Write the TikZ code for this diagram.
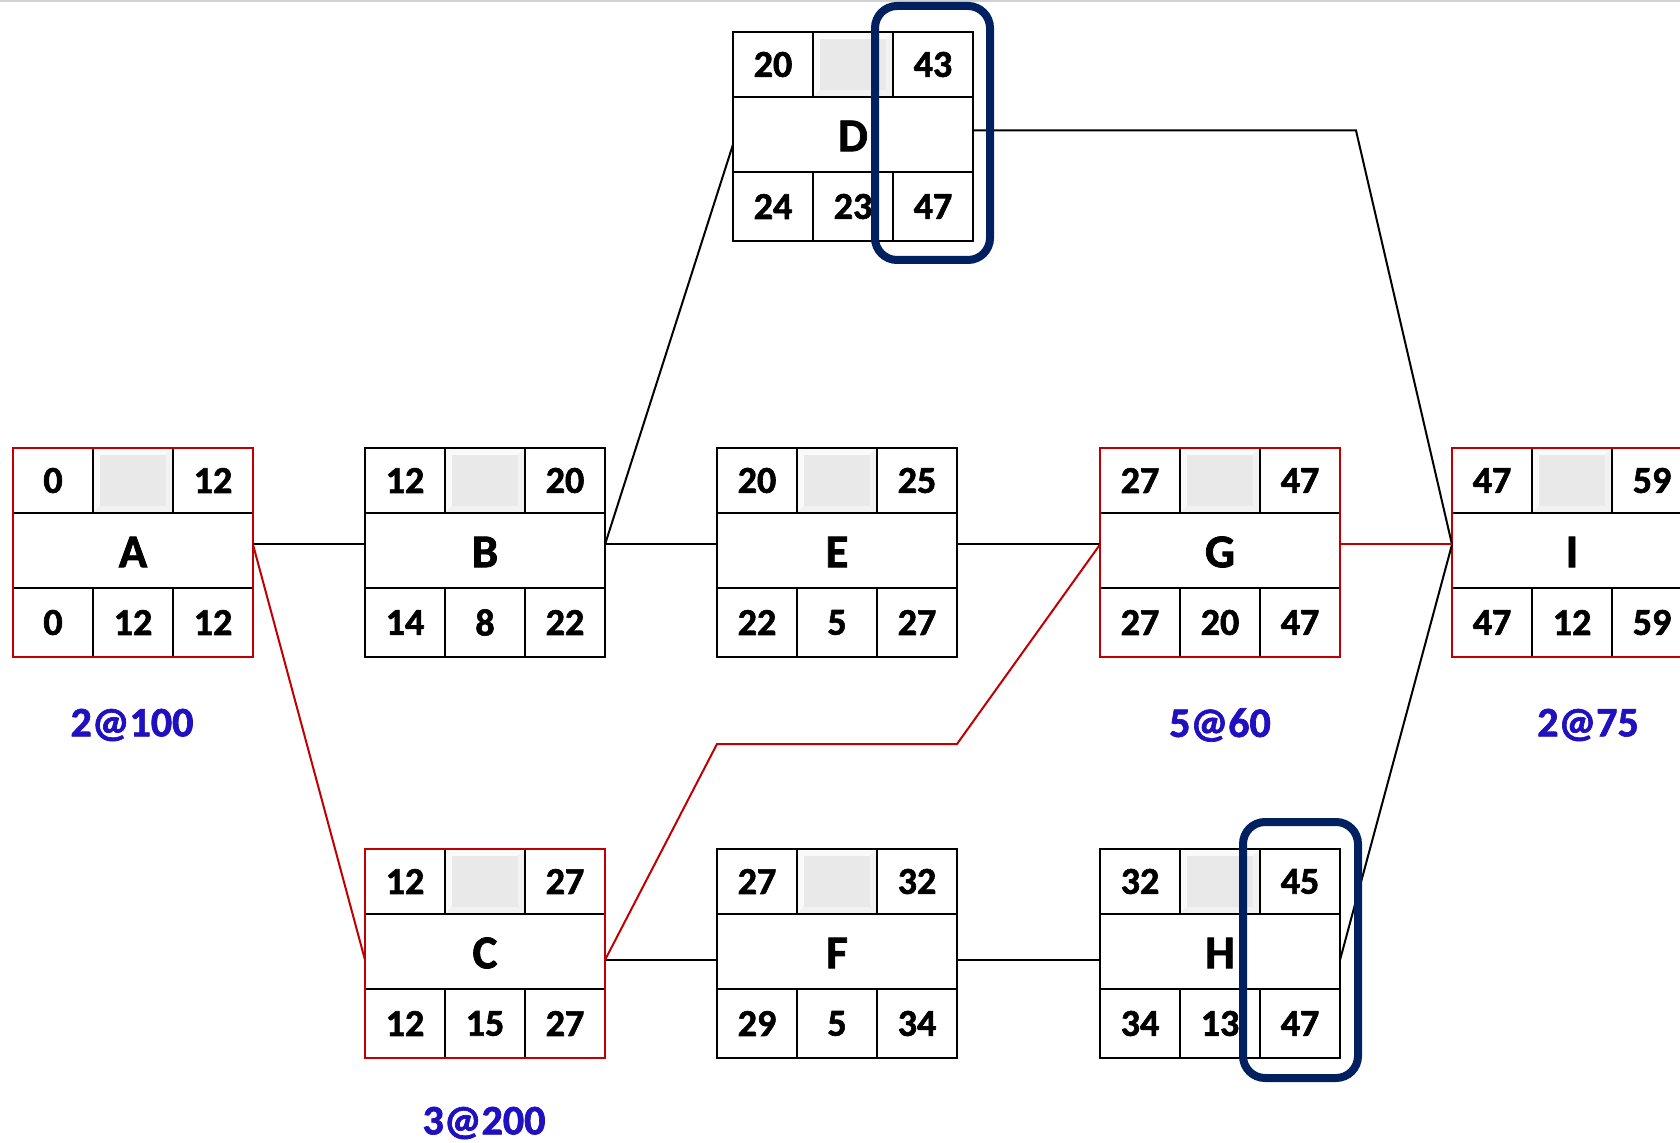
\documentclass[tikz,border=0pt]{standalone}
\usepackage{fontspec}
\setmainfont{Carlito}[BoldFont={Carlito Bold}, BoldFeatures={FakeBold=1.6}]
\usetikzlibrary{calc}

\definecolor{critred}{RGB}{192,0,0}
\definecolor{costblue}{RGB}{32,16,192}
\definecolor{navy}{RGB}{0,32,96}
\definecolor{cellgray}{RGB}{233,233,233}
\definecolor{bevellight}{RGB}{250,250,250}
\definecolor{bevelside}{RGB}{242,242,242}

\tikzset{
  boxarea/.style={draw=none, minimum width=120pt, minimum height=104.5pt,
    inner sep=0pt, outer sep=0pt, anchor=north west},
  gridline/.style={line width=1.2pt, black},
  critframe/.style={draw=critred, line width=1.3pt},
  plainframe/.style={draw=black, line width=1.2pt},
  num/.style={font=\fontsize{19}{21}\selectfont\bfseries, inner sep=0pt},
  actname/.style={font=\fontsize{23.5}{26}\selectfont\bfseries, inner sep=0pt},
  cost/.style={font=\fontsize{21}{23}\selectfont\bfseries, text=costblue, inner sep=0pt},
  link/.style={line width=1pt, black},
  critlink/.style={line width=1pt, critred},
  focus/.style={draw=navy, line width=4pt, rounded corners=11pt},
}

% activity box: name, top-left corner, frame style, ES, EF, label, LS, slack, LF
\newcommand\actbox[9]{%
  \node[boxarea] (#1) at (#2) {};
  \begin{scope}[shift={(#1.north west)}]
    % bevelled grey cell
    \fill[cellgray] (80,0) rectangle (160,65);
    \fill[bevellight] (81,1) -- (159,1) -- (153,7) -- (87,7) -- cycle;
    \fill[bevellight] (81,1) -- (87,7) -- (87,58) -- (81,64) -- cycle;
    \fill[bevelside] (159,1) -- (159,64) -- (153,58) -- (153,7) -- cycle;
    \fill[bevelside] (81,64) -- (159,64) -- (153,58) -- (87,58) -- cycle;
    \fill[cellgray] (87,7) rectangle (153,58);
    \draw[gridline] (0,65) -- (240,65) (0,140) -- (240,140)
      (80,0) -- (80,65) (160,0) -- (160,65)
      (80,140) -- (80,209) (160,140) -- (160,209);
    \draw[#3] (0,0) rectangle (240,209);
    \node[num] (#1-es) at (40,32.5) {#4};
    \node[num] (#1-ef) at (200,32.5) {#5};
    \node[actname] (#1-name) at (120,104) {#6};
    \node[num] (#1-ls) at (40,174.5) {#7};
    \node[num] (#1-sl) at (120,174.5) {#8};
    \node[num] (#1-lf) at (200,174.5) {#9};
  \end{scope}}

\begin{document}
\begin{tikzpicture}[x=0.5pt, y=-0.5pt]
  \clip (0,0) rectangle (1680,1143);
  \fill[white] (0,0) rectangle (1680,1143);
  \draw[draw=black!18, line width=1pt] (0,1) -- (1680,1);

  % activities
  \actbox{A}{13,448}{critframe}{0}{12}{A}{0}{12}{12}
  \actbox{B}{365,448}{plainframe}{12}{20}{B}{14}{8}{22}
  \actbox{E}{717,448}{plainframe}{20}{25}{E}{22}{5}{27}
  \actbox{G}{1100,448}{critframe}{27}{47}{G}{27}{20}{47}
  \actbox{I}{1452,448}{critframe}{47}{59}{I}{47}{12}{59}
  \actbox{D}{733,32}{plainframe}{20}{43}{D}{24}{23}{47}
  \actbox{C}{365,849}{critframe}{12}{27}{C}{12}{15}{27}
  \actbox{F}{717,849}{plainframe}{27}{32}{F}{29}{5}{34}
  \actbox{H}{1100,849}{plainframe}{32}{45}{H}{34}{13}{47}

  % bend points
  \coordinate (Dturn) at (1356,130.5);
  \coordinate (Cup) at (717,744);
  \coordinate (Gup) at (957,744);

  % non-critical links
  \draw[link] ([yshift=4pt]A.east) -- ([yshift=4pt]B.west);
  \draw[link] ([yshift=4pt]B.east) -- ([yshift=4pt]E.west);
  \draw[link] ([yshift=4pt]B.east) -- ([yshift=-4pt]D.west);
  \draw[link] ([yshift=3pt]D.east) -- (Dturn) -- ([yshift=4pt]I.west);
  \draw[link] ([yshift=4pt]E.east) -- ([yshift=4pt]G.west);
  \draw[link] ([yshift=-3.25pt]C.east) -- ([yshift=-3.25pt]F.west);
  \draw[link] ([yshift=-3.25pt]F.east) -- ([yshift=-3.25pt]H.west);
  \draw[link] ([yshift=-3.25pt]H.east) -- ([yshift=4pt]I.west);

  % critical path
  \draw[critlink] ([yshift=4pt]A.east) -- ([yshift=-3.25pt]C.west);
  \draw[critlink] ([yshift=-3.25pt]C.east) -- (Cup) -- (Gup) -- ([yshift=4pt]G.west);
  \draw[critlink] ([yshift=4pt]G.east) -- ([yshift=4pt]I.west);

  % crash costs
  \node[cost] (costA) at (132,725) {2@100};
  \node[cost] (costC) at (484,1123) {3@200};
  \node[cost] (costG) at (1220,725) {5@60};
  \node[cost] (costI) at (1588,725) {2@75};

  % highlighted finish columns
  \draw[focus] (875,6) rectangle (990,260);
  \draw[focus] (1243,822) rectangle (1358,1078);
\end{tikzpicture}
\end{document}
